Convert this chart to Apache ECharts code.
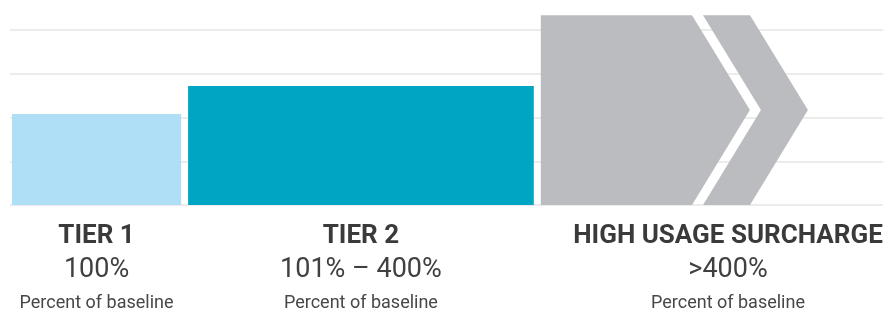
<!DOCTYPE html>
<html>
<head>
<meta charset="utf-8">
<script src="https://cdn.jsdelivr.net/npm/echarts@6/dist/echarts.min.js"></script>
<style>
html,body{margin:0;padding:0;background:#fff;}
#chart{width:885px;height:311px;}
</style>
</head>
<body>
<div id="chart"></div>
<script>
// ---- data ----
const categories = ['TIER 1', 'TIER 2', 'HIGH USAGE SURCHARGE'];
const ranges = ['100%', '101% – 400%', '>400%'];
const subtitle = 'Percent of baseline';
const widths = [1, 2.02, 1.55];     // relative widths of each tier block
const heights = [2.08, 2.72, 4.34]; // relative heights of each tier block
const colors = ['#aedff6', '#00a5c3', '#bbbcbf'];
const yTicks = [0, 1, 2, 3, 4];

// build series data from the arrays
let acc = 0;
const seriesData = widths.map((w, i) => {
  const item = [acc, acc + w, heights[i], i];
  acc += w;
  return item;
});

const chart = echarts.init(document.getElementById('chart'), null, { renderer: 'canvas' });

function renderItem(params, api) {
  const i = params.dataIndex;
  const x0 = api.value(0), x1 = api.value(1), h = api.value(2);
  const pL = api.coord([x0, 0]);
  const pR = api.coord([x1, h]);
  const gap = 3.5;
  const left = pL[0] + (i === 0 ? 2 : gap);
  const right = i === categories.length - 1 ? pR[0] : pR[0] - gap;
  const bottom = pL[1], top = pR[1];
  const children = [];
  if (i < 2) {
    children.push({
      type: 'rect',
      shape: { x: left, y: top, width: right - left, height: bottom - top },
      style: { fill: colors[i] }
    });
  } else {
    const mid = (top + bottom) / 2;
    const half = (bottom - top) / 2;
    const depth = half * 0.61;
    const band = 47, sep = 11;
    const end = right;
    children.push({
      type: 'polygon',
      shape: { points: [[left, top], [end - band - sep - depth, top], [end - band - sep, mid], [end - band - sep - depth, bottom], [left, bottom]] },
      style: { fill: colors[i] }
    });
    children.push({
      type: 'polygon',
      shape: { points: [[end - band - depth, top], [end - depth, top], [end, mid], [end - depth, bottom], [end - band - depth, bottom], [end - band, mid]] },
      style: { fill: colors[i] }
    });
  }
  const cx = i === 2 ? 728 : (left + right) / 2;
  children.push({
    type: 'text',
    style: { text: categories[i], x: cx, y: bottom + 31, align: 'center', verticalAlign: 'middle',
      font: 'bold 26px Roboto', fill: '#3a3a3a' }
  });
  children.push({
    type: 'text',
    style: { text: ranges[i], x: cx, y: bottom + 65, align: 'center', verticalAlign: 'middle',
      font: '27px Roboto', fill: '#404040' }
  });
  children.push({
    type: 'text',
    style: { text: subtitle, x: cx, y: bottom + 98, align: 'center', verticalAlign: 'middle',
      font: '18px Roboto', fill: '#474747' }
  });
  return { type: 'group', children: children };
}

chart.setOption({
  animation: false,
  grid: { left: 10, right: 2, top: 30, bottom: 106 },
  xAxis: { type: 'value', min: 0, max: 5, show: false },
  yAxis: {
    type: 'value', min: yTicks[0], max: yTicks[yTicks.length - 1], interval: 1,
    axisLine: { show: false }, axisTick: { show: false }, axisLabel: { show: false },
    splitLine: { show: true, lineStyle: { color: '#e6e6e6', width: 1.5 } }
  },
  series: [{
    type: 'custom',
    renderItem: renderItem,
    clip: false,
    encode: { x: [0, 1], y: 2 },
    data: seriesData
  }]
});
</script>
</body>
</html>
